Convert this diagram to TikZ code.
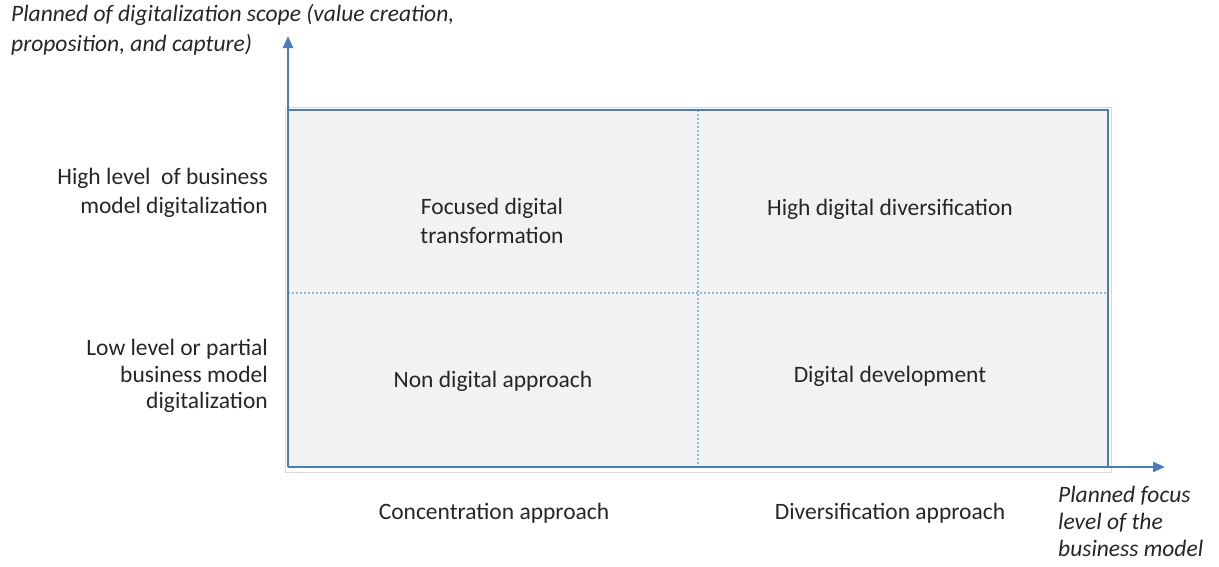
\documentclass[tikz,border=0pt]{standalone}
\usepackage{fontspec}
\setmainfont{Carlito}
\usetikzlibrary{arrows.meta}
\definecolor{axisblue}{HTML}{4A7EBB}
\definecolor{gridblue}{HTML}{8DB8E2}
\definecolor{panelgrey}{HTML}{F2F2F2}
\tikzset{
  txt/.style={font=\fontsize{23.5}{28}\selectfont, inner sep=0pt, align=center, text=black!85},
  axtitle/.style={txt, align=left},
  axis/.style={axisblue, line width=2.2pt, -{Triangle[length=12pt,width=10pt]}},
  frame/.style={axisblue, line width=2pt},
  gridline/.style={gridblue, line width=1.3pt, dash pattern=on 1.5pt off 2.5pt}
}
\begin{document}
\begin{tikzpicture}[x=1pt,y=-1pt]
\useasboundingbox (0,0) rectangle (1219,566);
% panel and its thin outer edge
\draw[black!15, line width=1pt, fill=white] (285,107) rectangle (1111,472);
\fill[panelgrey] (288,110) rectangle (1108,467);
\coordinate (o) at (288,467);
\coordinate (tl) at (288,110);
\coordinate (tr) at (1108,110);
\coordinate (br) at (1108,467);
\coordinate (ytip) at (288,36);
\coordinate (xtip) at (1165,467);
\coordinate (mt) at (698,110);
\coordinate (mb) at (698,467);
\coordinate (ml) at (288,293);
\coordinate (mr) at (1108,293);
\draw[gridline] (mt) -- (mb);
\draw[gridline] (ml) -- (mr);
\draw[frame] (tl) -- (tr) -- (br);
\draw[axis] (o) -- (ytip);
\draw[axis] (o) -- (xtip);
% quadrants
\node[txt, font=\fontsize{23.5}{29}\selectfont] (ftrans) at (492,221) {Focused digital\\transformation};
\node[txt] (hdiv) at (890,209) {High digital diversification};
\node[txt] (nondig) at (493,381) {Non digital approach};
\node[txt] (digdev) at (890,376) {Digital development};
% row labels
\node[txt, font=\fontsize{23.5}{29}\selectfont, align=right, anchor=east] (hilev) at (268,193) {High level~ of business\\model digitalization};
\node[txt, font=\fontsize{23.5}{26.5}\selectfont, align=right, anchor=east] (lolev) at (268,376) {Low level or partial\\business model\\digitalization};
% column labels
\node[txt] (conc) at (494,513) {Concentration approach};
\node[txt] (divers) at (890,513) {Diversification approach};
% axis titles
\node[axtitle, font=\fontsize{23.5}{30}\selectfont\itshape, anchor=west] (ytitle) at (11,30) {Planned of digitalization scope (value creation,\\proposition, and capture)};
\node[axtitle, font=\fontsize{23.5}{27}\selectfont\itshape, anchor=west] (xtitle) at (1058,521) {Planned focus\\level of the\\business model};
\end{tikzpicture}
\end{document}
